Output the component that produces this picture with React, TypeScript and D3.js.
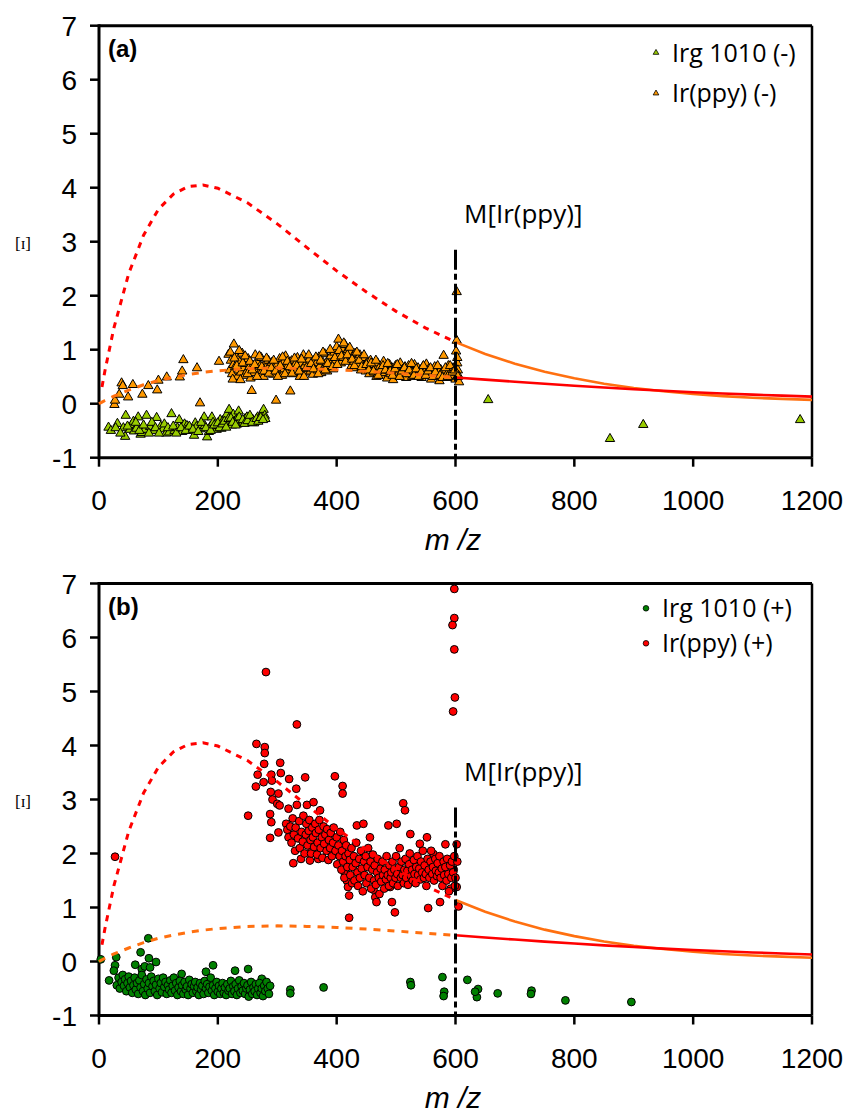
import React from "react";
import * as d3 from "d3";

// model curves (m/z, value)
const curveMz = [0, 5, 10, 25, 50, 75, 100, 125, 150, 175, 200, 250, 300, 350, 400, 450, 500, 550, 600,
  650, 700, 750, 800, 850, 900, 950, 1000, 1050, 1100, 1150, 1200];
const highCurve = [null, 0.31, 0.61, 1.4, 2.41, 3.12, 3.6, 3.88, 4.02, 4.05, 3.99, 3.72, 3.33, 2.89, 2.46, 2.07, 1.71, 1.4, 1.14,
  0.92, 0.74, 0.59, 0.47, 0.37, 0.29, 0.23, 0.18, 0.14, 0.11, 0.09, 0.07];
const lowCurve = [0, 0.03, 0.06, 0.14, 0.25, 0.35, 0.43, 0.49, 0.54, 0.58, 0.61, 0.65, 0.66, 0.65, 0.63, 0.6, 0.565, 0.525, 0.486,
  0.445, 0.406, 0.368, 0.332, 0.299, 0.268, 0.239, 0.213, 0.19, 0.168, 0.149, 0.131];

// (a) negative mode
const irgNeg = [[16,-0.44],[31,-0.37],[41,-0.45],[44,-0.61],[45,-0.22],[52,-0.48],[55,-0.39],[58,-0.33],[59,-0.51],[63,-0.46],
  [66,-0.25],[70,-0.57],[72,-0.54],[77,-0.48],[80,-0.22],[86,-0.43],[92,-0.5],[97,-0.26],[104,-0.42],[108,-0.47],[113,-0.55],
  [118,-0.53],[122,-0.19],[127,-0.5],[132,-0.45],[135,-0.3],[140,-0.52],[144,-0.38],[148,-0.41],[149,-0.47],[155,-0.5],
  [160,-0.59],[162,-0.36],[164,-0.43],[170,-0.47],[174,-0.4],[177,-0.25],[178,-0.41],[182,-0.62],[185,-0.52],[187,-0.43],
  [190,-0.25],[192,-0.35],[195,-0.44],[198,-0.48],[201,-0.41],[204,-0.3],[206,-0.46],[209,-0.31],[212,-0.42],[215,-0.2],
  [217,-0.38],[219,-0.11],[221,-0.36],[224,-0.4],[226,-0.2],[228,-0.33],[231,-0.3],[233,-0.38],[235,-0.14],[238,-0.31],
  [240,-0.36],[243,-0.35],[246,-0.28],[249,-0.25],[252,-0.33],[256,-0.27],[259,-0.3],[261,-0.36],[263,-0.33],[267,-0.25],
  [270,-0.3],[274,-0.2],[277,-0.11],[279,-0.22],[280,-0.28],[655,0.07],[860,-0.65],[916,-0.39],[1180,-0.3],
  [20,-0.5],[28,-0.45],[36,-0.55],[48,-0.42],[62,-0.35],[68,-0.5],[75,-0.4],[84,-0.55],[89,-0.35],[95,-0.45],[101,-0.55],
  [110,-0.38],[116,-0.45],[125,-0.42],[130,-0.55],[138,-0.45],[146,-0.5],[152,-0.42],[158,-0.48],[167,-0.52],[172,-0.35],
  [180,-0.45],[188,-0.5],[194,-0.4],[200,-0.36],[203,-0.45],[208,-0.38],[211,-0.33],[214,-0.44],[218,-0.28],[222,-0.27],
  [225,-0.35],[230,-0.4],[236,-0.25],[242,-0.3],[245,-0.37],[250,-0.32],[254,-0.22],[258,-0.35],[265,-0.28],[268,-0.33],
  [272,-0.26],[276,-0.3]];

const irppyNeg = [[26,-0.02],[27,0.06],[34,0.17],[38,0.38],[40,0.33],[49,0.12],[57,0.35],[73,0.17],[83,0.33],[98,0.25],
  [100,0.43],[114,0.49],[136,0.49],[140,0.6],[142,0.81],[165,0.66],[170,0.01],[202,0.78],[218,0.91],[227,1.1],
  [220,0.62],[222,0.8],[224,0.55],[226,0.72],[229,0.68],[231,0.86],[233,0.5],[235,0.62],[237,0.77],[239,0.58],[241,0.93],
  [243,0.66],[245,0.52],[247,0.74],[249,0.6],[251,0.83],[253,0.68],[255,0.47],[257,0.24],[259,0.71],[261,0.57],[263,0.9],
  [265,0.64],[267,0.78],[269,0.55],[271,0.69],[273,0.85],[275,0.61],[277,0.5],[279,0.73],[281,0.66],[283,0.59],[285,0.8],
  [287,0.7],[289,0.62],[291,0.76],[293,0.54],[295,0.67],[298,0.06],[300,0.72],[302,0.6],[304,0.83],[306,0.66],[308,0.52],
  [310,0.75],[312,0.64],[314,0.88],[316,0.58],[318,0.7],[320,0.62],[322,0.23],[324,0.79],[326,0.66],[328,0.55],[330,0.72],
  [332,0.6],[334,0.85],[336,0.68],[338,0.5],[340,0.74],[342,0.63],[344,0.9],[346,0.7],[348,0.58],[350,0.77],[352,0.65],
  [354,0.82],[356,0.6],[358,0.71],[360,0.54],[362,0.8],[364,0.68],[366,0.75],[368,0.62],[370,0.86],[372,0.7],[374,0.57],
  [376,0.78],[378,0.66],[380,0.92],[382,0.72],[384,0.6],[386,0.82],[388,0.7],[390,0.88],[392,0.76],[394,0.64],[396,0.95],
  [398,0.8],[400,1.05],[403,1.19],[405,0.9],[407,0.75],[409,1.02],[411,0.85],[414,1.09],[416,0.94],[419,1.0],[421,0.82],
  [423,0.96],[425,0.7],[427,0.88],[429,0.78],[431,0.93],[433,0.66],[435,0.84],[437,0.74],[439,0.9],[441,0.62],[443,0.8],
  [445,0.7],[447,0.85],[449,0.6],[451,0.76],[453,0.68],[455,0.55],[457,0.8],[459,0.65],[461,0.72],[463,0.58],[465,0.66],
  [467,0.5],[469,0.75],[471,0.6],[473,0.69],[475,0.52],[477,0.64],[479,0.78],[481,0.57],[483,0.68],[485,0.47],[487,0.62],
  [489,0.72],[491,0.55],[493,0.66],[495,0.44],[497,0.6],[499,0.7],[501,0.54],[503,0.65],[505,0.58],[507,0.75],[509,0.5],
  [511,0.63],[513,0.56],[515,0.68],[517,0.48],[519,0.6],[521,0.7],[523,0.55],[525,0.64],[527,0.5],[529,0.58],[531,0.72],
  [533,0.6],[535,0.52],[537,0.66],[539,0.57],[541,0.62],[543,0.48],[545,0.68],[547,0.55],[549,0.6],[551,0.73],[553,0.52],
  [555,0.64],[557,0.58],[559,0.45],[561,0.62],[563,0.56],[565,0.68],[567,0.5],[569,0.6],[571,0.55],[573,0.42],[575,0.63],
  [577,0.58],[580,0.89],[582,0.5],[584,0.62],[586,0.55],[588,0.7],[590,0.48],[592,0.6],[594,0.52],[596,0.66],[598,0.58],
  [600,0.45],[601,0.97],[602,1.17],[603,0.75],[602,2.07],[604,0.62],[605,0.52],[606,0.4],
  [221,0.95],[225,0.45],[228,0.84],[232,0.7],[236,0.98],[238,0.44],[242,0.75],[246,0.88],[250,0.55],[254,0.78],[258,0.62],
  [262,0.72],[266,0.5],[270,0.88],[274,0.68],[278,0.6],[282,0.84],[286,0.56],[290,0.66],[294,0.8],[297,0.6],[301,0.5],
  [305,0.7],[309,0.86],[313,0.55],[317,0.78],[321,0.68],[325,0.56],[329,0.84],[333,0.7],[337,0.6],[341,0.82],[345,0.5],
  [349,0.66],[353,0.9],[357,0.74],[361,0.64],[365,0.86],[369,0.55],[373,0.8],[377,0.95],[381,0.62],[385,0.74],[389,1.0],
  [393,0.68],[397,0.85],[401,0.72],[404,0.98],[408,0.88],[412,1.12],[415,0.78],[418,0.9],[422,1.04],[426,0.82],[430,0.7],
  [434,0.95],[438,0.8],[442,0.68],[446,0.9],[450,0.72],[454,0.62],[458,0.75],[462,0.6],[466,0.8],[470,0.52],[474,0.62],
  [478,0.7],[482,0.62],[486,0.74],[490,0.6],[494,0.52],[498,0.64],[502,0.72],[506,0.5],[510,0.6],[514,0.66],[518,0.55],
  [522,0.62],[526,0.74],[530,0.52],[534,0.64],[538,0.5],[542,0.58],[546,0.7],[550,0.52],[554,0.6],[558,0.66],[562,0.5],
  [566,0.58],[570,0.7],[574,0.52],[578,0.48],[583,0.66],[587,0.5],[591,0.7],[595,0.58],[599,0.62],[603,0.85],[604,0.5]];

// (b) positive mode
const irgPos = [[3,0.04],[29,0.08],[27,-0.07],[25,-0.17],[17,-0.35],[30,-0.44],[70,0.17],[83,0.43],[84,0.06],[96,-0.01],
  [61,-0.06],[72,-0.14],[77,-0.09],[86,-0.11],[139,-0.23],[180,-0.19],[192,-0.07],[229,-0.17],[251,-0.14],[274,-0.32],
  [322,-0.52],[322,-0.59],[378,-0.48],[524,-0.38],[525,-0.44],[578,-0.29],[581,-0.56],[580,-0.64],[620,-0.34],[638,-0.51],
  [636,-0.66],[633,-0.56],[671,-0.59],[728,-0.54],[727,-0.6],[785,-0.72],[896,-0.75],
  [33,-0.3],[35,-0.5],[38,-0.38],[40,-0.25],[42,-0.45],[44,-0.33],[46,-0.55],[48,-0.4],[50,-0.28],[52,-0.48],[54,-0.36],
  [56,-0.58],[58,-0.44],[60,-0.3],[62,-0.52],[64,-0.4],[66,-0.6],[68,-0.35],[70,-0.48],[72,-0.25],[74,-0.55],[76,-0.42],
  [78,-0.62],[80,-0.33],[82,-0.5],[84,-0.4],[86,-0.58],[88,-0.28],[90,-0.46],[92,-0.36],[94,-0.55],[96,-0.43],[98,-0.62],
  [100,-0.32],[102,-0.5],[104,-0.4],[106,-0.57],[108,-0.3],[110,-0.47],[112,-0.38],[114,-0.6],[116,-0.44],[118,-0.52],
  [120,-0.35],[122,-0.58],[124,-0.45],[126,-0.3],[128,-0.54],[130,-0.4],[132,-0.62],[134,-0.48],[136,-0.36],[138,-0.55],
  [140,-0.44],[142,-0.6],[144,-0.38],[146,-0.52],[148,-0.46],[150,-0.62],[152,-0.34],[154,-0.5],[156,-0.42],[158,-0.58],
  [160,-0.46],[162,-0.38],[164,-0.55],[166,-0.48],[168,-0.62],[170,-0.4],[172,-0.52],[174,-0.45],[176,-0.6],[178,-0.36],
  [180,-0.5],[182,-0.42],[184,-0.58],[186,-0.47],[188,-0.3],[190,-0.54],[192,-0.44],[194,-0.62],[196,-0.5],[198,-0.38],
  [200,-0.56],[202,-0.45],[204,-0.6],[206,-0.5],[208,-0.4],[210,-0.58],[212,-0.48],[214,-0.62],[216,-0.42],[218,-0.54],
  [220,-0.5],[222,-0.36],[224,-0.6],[226,-0.46],[228,-0.55],[230,-0.42],[232,-0.62],[234,-0.5],[236,-0.35],[238,-0.58],
  [240,-0.46],[242,-0.54],[244,-0.4],[246,-0.6],[248,-0.5],[250,-0.44],[252,-0.65],[254,-0.52],[256,-0.38],[258,-0.6],
  [260,-0.48],[262,-0.55],[264,-0.42],[266,-0.62],[268,-0.5],[270,-0.4],[272,-0.58],[274,-0.5],[276,-0.64],[278,-0.45],
  [280,-0.55],[282,-0.38],[284,-0.5],[286,-0.6],[288,-0.45]];

const irppyPos = [[27,1.94],[251,2.7],[264,3.24],[265,4.03],[267,3.46],[277,3.32],[278,3.66],[279,3.97],[279,3.86],[281,5.36],
  [288,2.73],[288,2.29],[289,3.14],[290,3.46],[290,2.58],[291,3.35],[292,3.0],[300,2.92],[302,3.11],[302,2.39],[304,2.89],
  [305,3.68],[306,3.49],[315,2.55],[317,2.44],[319,2.83],[319,2.3],[320,3.38],[327,1.82],[332,3.2],[333,2.9],[333,4.39],
  [340,1.9],[347,3.41],[350,2.9],[355,1.87],[358,2.06],[361,2.95],[369,1.9],[372,2.8],[397,3.43],[410,3.25],[410,3.11],
  [414,1.62],[417,1.5],[419,1.38],[421,1.22],[421,0.81],[434,2.52],[445,2.55],[456,2.3],[462,1.33],[465,1.19],[467,1.1],
  [487,2.52],[490,1.38],[493,1.1],[498,0.91],[501,2.55],[512,2.93],[515,2.8],[524,2.36],[540,2.18],[552,2.3],[554,0.99],
  [563,1.99],[574,1.1],[583,2.17],[592,1.35],[598,6.9],[598,6.36],[595,6.23],[598,5.78],[599,4.89],[596,4.63],[597,1.7],
  [602,2.17],[602,1.38],[605,1.02],
  [322,2.5],[324,2.2],[326,2.65],[328,2.35],[330,2.05],[331,2.48],[335,2.28],[337,2.6],[338,2.1],[341,2.4],[343,2.22],
  [344,2.7],[346,2.0],[348,2.35],[349,2.55],[351,2.15],[353,2.42],[354,2.62],[356,2.25],[357,2.0],[359,2.48],[360,2.3],
  [362,2.12],[364,2.55],[365,2.38],[367,1.98],[368,2.2],[370,2.44],[371,2.62],[373,2.1],[375,2.3],[376,1.92],[378,2.5],
  [379,2.18],[381,2.35],[383,2.05],[384,2.45],[386,1.88],[387,2.25],[389,2.1],[390,2.38],[392,1.95],[394,2.2],[395,2.48],
  [398,2.05],[400,2.3],[401,1.8],[403,2.15],[405,1.95],[406,2.4],[408,1.7],[409,2.05],[411,1.85],[412,2.25],[413,1.55],
  [415,1.95],[416,2.15],[418,1.75],[420,2.0],
  [422,1.88],[423,1.6],[425,2.1],[426,1.45],[427,1.75],[429,1.95],[430,1.5],[432,1.82],[433,2.2],[435,1.65],[436,1.4],
  [438,1.9],[439,1.55],[441,2.05],[442,1.72],[444,1.3],[446,1.85],[447,1.6],[449,1.95],[450,1.45],[452,1.75],[453,2.1],
  [455,1.55],[457,1.85],[458,1.35],[460,1.7],[461,1.98],[463,1.5],[464,1.78],[466,1.42],[468,1.65],[469,1.9],[471,1.55],
  [472,1.25],[474,1.72],[475,1.48],[477,1.85],[478,1.6],[480,1.35],[481,1.7],[483,1.52],[484,1.95],[486,1.6],[488,1.4],
  [489,1.78],[491,1.55],[492,1.65],[494,1.85],[495,1.45],[497,1.7],[499,1.55],[500,1.95],[502,1.62],[503,1.4],[505,1.75],
  [506,2.1],[508,1.55],[509,1.85],[511,1.6],[513,1.45],[514,1.7],[516,1.9],[517,1.55],[519,1.68],[520,1.42],[522,1.8],
  [523,2.0],[525,1.58],[527,1.7],[528,1.5],[530,1.88],[531,1.62],[533,1.45],[534,1.75],[536,1.95],[537,1.6],[539,1.72],
  [541,1.52],[542,1.85],[544,1.65],[545,2.05],[547,1.55],[548,1.78],[550,1.62],[551,1.4],[553,1.9],[555,1.7],[556,1.55],
  [558,1.85],[559,2.05],[561,1.62],[562,1.75],[564,1.5],[566,1.9],[567,1.68],[569,1.58],[570,1.82],[572,1.65],[573,1.95],
  [575,1.55],[577,1.72],[578,1.4],[580,1.85],[581,1.6],[583,1.75],[585,1.5],[586,1.9],[588,1.62],[589,1.3],[591,1.78],
  [593,1.55],[594,1.85],[596,1.65],[598,1.95],[599,1.4],[600,1.55],[603,1.85]];

const xTicks = [0, 200, 400, 600, 800, 1000, 1200];
const yTicks = [-1, 0, 1, 2, 3, 4, 5, 6, 7];
const markMz = 600;
const markTop = 2.85;

const W = 846;
const H = 1115;
const plotH = 432;

const x = d3.scaleLinear().domain([0, 1200]).range([99, 812]);

const tri = d3.symbol(d3.symbolTriangle, 38)();
const triSmall = d3.symbol(d3.symbolTriangle, 14)();

const sans = "'Liberation Sans', Arial, sans-serif";
const uiFont = "'Open Sans', 'Noto Sans', sans-serif";

function Panel({ top, tag, series, shape, legend }) {
  const y = d3.scaleLinear().domain([-1, 7]).range([top + plotH, top]);
  const pts = curveMz.map((m, i) => ({ m, hi: highCurve[i], lo: lowCurve[i] }));
  const lineHi = d3.line().defined(d => d.hi != null).x(d => x(d.m)).y(d => y(d.hi));
  const lineLo = d3.line().x(d => x(d.m)).y(d => y(d.lo));
  const before = pts.filter(d => d.m <= markMz);
  const after = pts.filter(d => d.m >= markMz);
  const bottom = y(-1);

  return (
    <g>
      {/* frame */}
      <line x1={x(0)} x2={x(1200)} y1={top} y2={top} stroke="#000" strokeWidth={3} />
      <line x1={x(1200)} x2={x(1200)} y1={top} y2={bottom} stroke="#000" strokeWidth={2.5} />
      <line x1={x(0)} x2={x(0)} y1={top - 1.5} y2={bottom + 1.5} stroke="#000" strokeWidth={3} />
      <line x1={x(0)} x2={x(1200)} y1={bottom} y2={bottom} stroke="#000" strokeWidth={3} />

      {yTicks.map(t => (
        <g key={t}>
          <line x1={x(0) - 9} x2={x(0)} y1={y(t)} y2={y(t)} stroke="#000" strokeWidth={2.5} />
          <text x={77} y={y(t) + 10} textAnchor="end" fontFamily={sans} fontSize={28}>{t}</text>
        </g>
      ))}
      {xTicks.map(t => (
        <g key={t}>
          <line x1={x(t)} x2={x(t)} y1={bottom} y2={bottom + 9} stroke="#000" strokeWidth={2.5} />
          <text x={x(t)} y={bottom + 52} textAnchor="middle" fontFamily={sans} fontSize={28}>{t}</text>
        </g>
      ))}

      {/* scatter */}
      {series.map(s => s.data.map((d, i) => shape === "tri"
        ? <path key={s.name + i} d={tri} transform={`translate(${x(d[0])},${y(d[1])})`} fill={s.color} stroke="#000" strokeWidth={1} />
        : <circle key={s.name + i} cx={x(d[0])} cy={y(d[1])} r={3.9} fill={s.color} stroke="#000" strokeWidth={1} />
      ))}

      {/* curves */}
      <path d={lineHi(before)} fill="none" stroke="#ff0000" strokeWidth={3} strokeDasharray="6,6" />
      <path d={lineLo(before)} fill="none" stroke="#ff7010" strokeWidth={3} strokeDasharray="7,7" />
      <path d={lineHi(after)} fill="none" stroke="#ff7010" strokeWidth={2.6} />
      <path d={lineLo(after)} fill="none" stroke="#ff0000" strokeWidth={2.6} />

      {/* M[Ir(ppy)] marker */}
      <line x1={x(markMz)} x2={x(markMz)} y1={y(markTop)} y2={bottom} stroke="#000" strokeWidth={3} strokeDasharray="20,4,6,4" />
      <text x={464} y={top + 197} fontFamily={uiFont} fontSize={26}>M[Ir(ppy)]</text>

      <text x={108} y={top + 31} fontFamily={sans} fontSize={24} fontWeight="bold">{tag}</text>

      {/* legend */}
      {series.map((s, i) => (
        <g key={s.name}>
          {shape === "tri"
            ? <path d={triSmall} transform={`translate(${legend.mx},${top + legend.rows[i]})`} fill={s.color} stroke="#000" strokeWidth={0.8} />
            : <circle cx={legend.mx} cy={top + legend.rows[i]} r={2.8} fill={s.color} stroke="#000" strokeWidth={0.8} />}
          <text x={legend.tx} y={top + legend.rows[i] + 9} fontFamily={uiFont} fontSize={25}>{s.name}</text>
        </g>
      ))}

      <text x={23} y={(top + bottom) / 2 + 7} textAnchor="middle" fontFamily="'Liberation Serif', serif" fontSize={17}>[ɪ]</text>
      <text x={453} y={bottom + 92} textAnchor="middle" fontFamily={sans} fontSize={30} fontStyle="italic">m /z</text>
    </g>
  );
}

export default function App() {
  return (
    <svg width={W} height={H} style={{ position: "absolute", left: 0, top: 0, background: "#fff" }}>
      <Panel
        top={25.7}
        tag="(a)"
        shape="tri"
        series={[
          { name: "Irg 1010 (-)", color: "#99cc00", data: irgNeg },
          { name: "Ir(ppy) (-)", color: "#ff9900", data: irppyNeg },
        ]}
        legend={{ mx: 656, tx: 672, rows: [27, 67.6] }}
      />
      <Panel
        top={583.5}
        tag="(b)"
        shape="circle"
        series={[
          { name: "Irg 1010 (+)", color: "#008000", data: irgPos },
          { name: "Ir(ppy) (+)", color: "#ff0000", data: irppyPos },
        ]}
        legend={{ mx: 646, tx: 662, rows: [24.8, 59.8] }}
      />
    </svg>
  );
}
